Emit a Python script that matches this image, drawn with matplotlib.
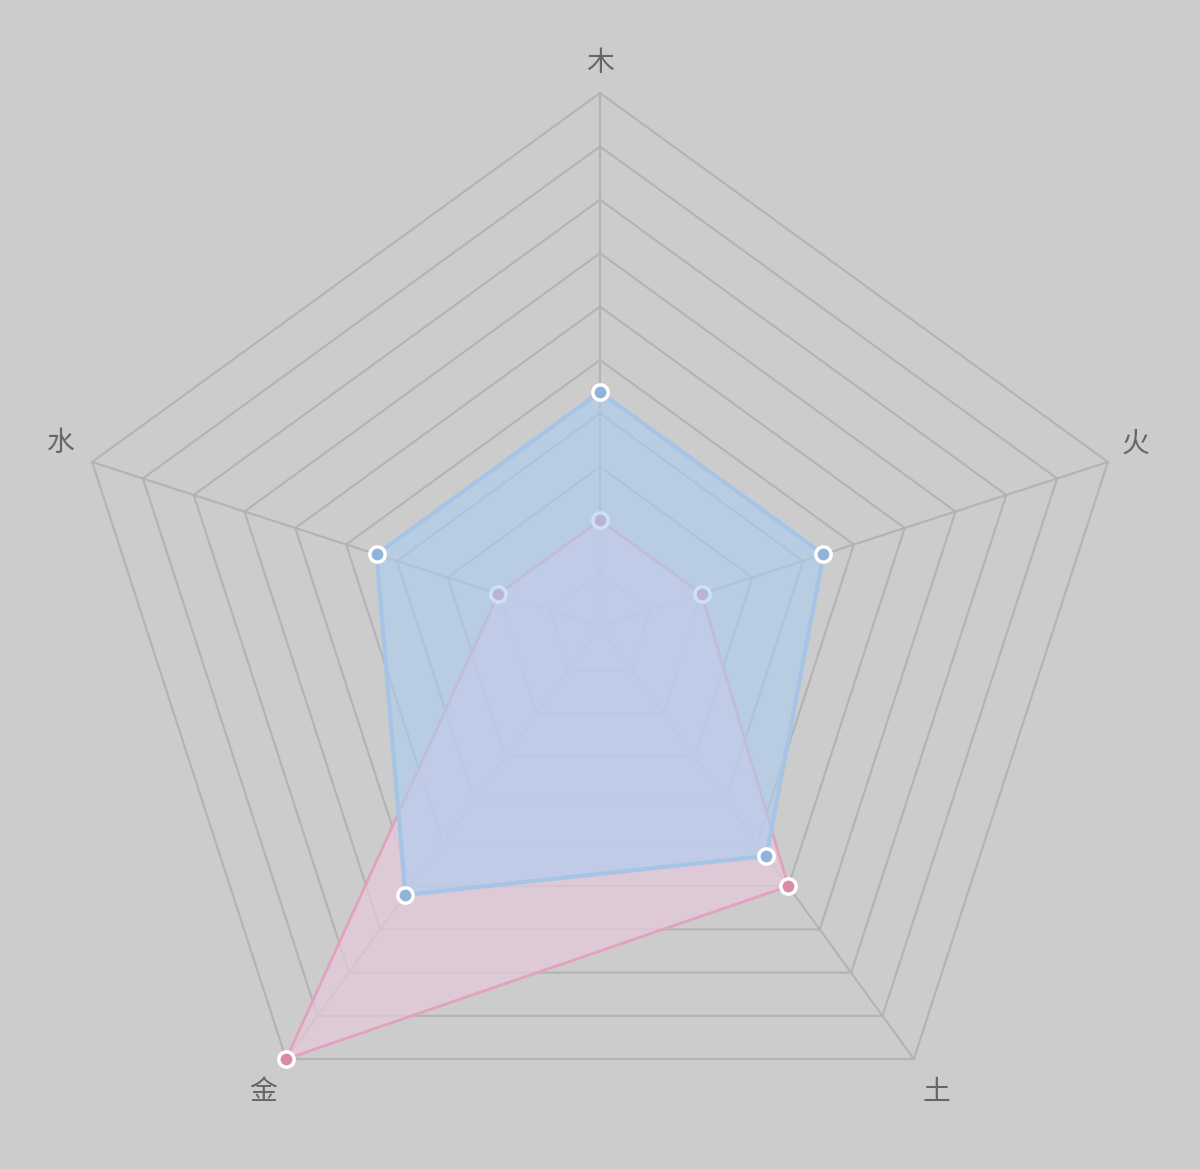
import numpy as np
import matplotlib.pyplot as plt

plt.rcParams['font.family'] = ['Noto Sans CJK SC', 'DejaVu Sans']

# five elements, clockwise from the top
labels = ['木', '火', '土', '金', '水']
max_value = 10
rings = 10

pink_values = [2.0, 2.0, 6.0, 10.0, 2.0]
blue_values = [4.4, 4.4, 5.3, 6.2, 4.4]

# small nudges (pixels, x right / y down) to sit the labels like the original
label_nudge = [(0, 5), (-5, -8), (2, 5), (-3, 5), (2, -8)]


def to_xy(values):
    n = len(values)
    ang = np.pi / 2 - np.arange(n) * 2 * np.pi / n
    v = np.asarray(values, dtype=float)
    return v * np.cos(ang), v * np.sin(ang)


fig = plt.figure(figsize=(12, 11.69), dpi=100, facecolor='#cccccc')
ax = fig.add_axes([0, 0, 1, 1])
ax.set_facecolor('#cccccc')
scale = 53.4
ax.set_xlim(-600 / scale, 600 / scale)
ax.set_ylim(-542 / scale, 627 / scale)
ax.axis('off')

# grid rings and spokes
n = len(labels)
for k in range(1, rings + 1):
    gx, gy = to_xy([max_value * k / rings] * n)
    ax.plot(np.append(gx, gx[0]), np.append(gy, gy[0]), color='#b3b3b3', lw=1.5, zorder=1)
sx, sy = to_xy([max_value] * n)
for i in range(n):
    ax.plot([0, sx[i]], [0, sy[i]], color='#b3b3b3', lw=1.5, zorder=1)

# labels
lx, ly = to_xy([max_value * 1.065] * n)
for i, lab in enumerate(labels):
    dx, dy = label_nudge[i]
    ax.annotate(lab, (lx[i], ly[i]), xytext=(dx * 0.72, -dy * 0.72), textcoords='offset points',
                fontsize=20, color='#666666', ha='center', va='center')

# pink series (behind)
px, py = to_xy(pink_values)
ax.fill(px, py, color=(231 / 255, 201 / 255, 221 / 255), alpha=0.7, zorder=2)
ax.plot(np.append(px, px[0]), np.append(py, py[0]), color='#e3a2bc', lw=2, zorder=3)
ax.plot(px, py, 'o', ms=11, mfc='#d98aa8', mec='white', mew=2.5, zorder=4)

# blue series (front)
bx, by = to_xy(blue_values)
ax.fill(bx, by, color=(171 / 255, 206 / 255, 242 / 255), alpha=0.6, zorder=5)
ax.plot(np.append(bx, bx[0]), np.append(by, by[0]), color='#a6c5e6', lw=3, zorder=6)
ax.plot(bx, by, 'o', ms=11, mfc='#8fb3da', mec='white', mew=2.5, zorder=7)

fig.savefig('out.png', dpi=100, facecolor=fig.get_facecolor())
